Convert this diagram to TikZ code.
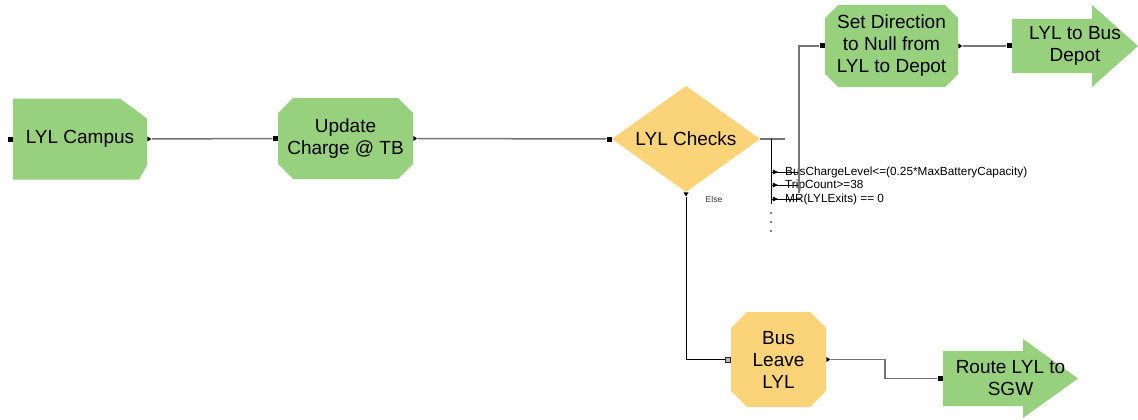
\documentclass[tikz,border=0pt]{standalone}
\usepackage{fontspec}
\setmainfont{Liberation Sans}
\usetikzlibrary{shapes.geometric,positioning,calc}
\definecolor{lylgreen}{HTML}{97D17D}
\definecolor{lylgold}{HTML}{FBD378}
\definecolor{linkgrey}{HTML}{747474}

\tikzset{
  block/.style={rectangle, inner sep=0pt, align=center, font=\fontsize{19}{22}\selectfont},
  octbox/.style 2 args={block, path picture={
      \coordinate (nw) at (path picture bounding box.north west);
      \coordinate (se) at (path picture bounding box.south east);
      \fill[#1] ($(nw)+(#2,0)$) -- ($(se|-nw)+(-#2,0)$) -- ($(se|-nw)+(0,-#2)$)
        -- ($(se)+(0,#2)$) -- ($(se)+(-#2,0)$) -- ($(nw|-se)+(#2,0)$)
        -- ($(nw|-se)+(0,#2)$) -- ($(nw)+(0,-#2)$) -- cycle;}},
  startbox/.style={block, path picture={
      \coordinate (nw) at (path picture bounding box.north west);
      \coordinate (se) at (path picture bounding box.south east);
      \fill[lylgreen] (nw) -- ($(se|-nw)+(-27,0)$) -- ($(se|-nw)+(0,-20)$)
        -- ($(se)+(0,14)$) -- ($(se)+(-8,0)$) -- (nw|-se) -- cycle;}},
  decisionbox/.style={block, path picture={
      \fill[lylgold] (path picture bounding box.north) -- (path picture bounding box.east)
        -- (path picture bounding box.south) -- (path picture bounding box.west) -- cycle;}},
  routebox/.style 2 args={block, path picture={
      \coordinate (nw) at (path picture bounding box.north west);
      \coordinate (se) at (path picture bounding box.south east);
      \fill[lylgreen] ($(nw)+(0,-#1)$) -- ($(nw)+(#2,-#1)$) -- ($(nw)+(#2,0)$)
        -- (path picture bounding box.east) -- ($(nw|-se)+(#2,0)$)
        -- ($(nw|-se)+(#2,#1)$) -- ($(nw|-se)+(0,#1)$) -- cycle;}},
  inport/.style={rectangle, fill=black, minimum size=5pt, inner sep=0pt},
  openport/.style={rectangle, fill=gray!55, draw=black!85, line width=0.7pt, minimum size=5pt, inner sep=0pt},
  outport/.style={isosceles triangle, isosceles triangle stretches, fill=black,
    minimum height=4pt, minimum width=5pt, inner sep=0pt},
  link/.style={draw=linkgrey, line width=1.5pt},
  blink/.style={draw=black, line width=1pt},
  condtext/.style={anchor=west, inner sep=0pt, font=\fontsize{11.8}{13}\selectfont},
}

\begin{document}
\begin{tikzpicture}[x=1pt, y=1pt]
\useasboundingbox (0,0) rectangle (1138,-420);

\node[startbox, minimum width=134pt, minimum height=81pt] (campus) at (80,-139) {LYL Campus};
\node[octbox={lylgreen}{15}, minimum width=135pt, minimum height=81pt] (update) at (345.5,-138.5) {Update\\Charge @ TB};
\node[decisionbox, minimum width=148pt, minimum height=106pt] (checks) at (686,-139) {LYL Checks};
\node[octbox={lylgreen}{13}, minimum width=133pt, minimum height=82pt] (setdir) at (891.5,-46) {Set Direction\\to Null from\\LYL to Depot};
\node[routebox={14}{80}, minimum width=126pt, minimum height=82pt] (depot) at (1075,-46) {LYL to Bus\\Depot};
\node[octbox={lylgold}{16}, minimum width=95pt, minimum height=95pt] (busleave) at (778.5,-359.5) {Bus\\Leave\\LYL};
\node[routebox={12}{80}, minimum width=135pt, minimum height=79pt] (sgw) at (1010.5,-378.5) {Route LYL to\\SGW};

% ports
\node[inport, left=0pt of campus] (campus-in) {};
\node[outport, right=0pt of campus] (campus-out) {};
\node[inport, left=0pt of update] (update-in) {};
\node[outport, right=0pt of update] (update-out) {};
\node[inport, left=0pt of checks] (checks-in) {};
\node[outport, shape border rotate=-90, below=0pt of checks] (checks-else) {};
\node[inport, left=0pt of setdir] (setdir-in) {};
\node[outport, right=0pt of setdir] (setdir-out) {};
\node[inport, left=0pt of depot] (depot-in) {};
\node[openport, left=0pt of busleave] (busleave-in) {};
\node[outport, right=0pt of busleave] (busleave-out) {};
\node[inport, left=0pt of sgw] (sgw-in) {};

\coordinate (split) at (771,-139);
\coordinate (splitend) at (785,-139);
\coordinate (splitbot) at (771,-204);
\coordinate (cond-exit) at (799,-193);
\coordinate (jog) at (885,-370);

\draw[link] (campus-out) -- (update-in);
\draw[link] (update-out) -- (checks-in);
\draw[link] (checks.east) -- (splitend);
\draw[blink] (split) -- (splitbot);
\foreach \y/\txt [count=\i] in {172/{BusChargeLevel<=(0.25*MaxBatteryCapacity)}, 185/{TripCount>=38}, 199/{MR(LYLExits) == 0}} {
  \node[outport, minimum height=5pt] (cond\i) at (774.5,-\y) {};
  \coordinate (cond\i-end) at (800,-\y);
  \node[condtext] (cond\i-label) at (785,-\y) {\txt};
  \draw[blink] (split |- cond\i) -- (cond\i-end);
}
\foreach \y in {213,222,231} \fill (771,-\y) circle (0.9);
\draw[link] (cond-exit) |- (setdir-in);
\draw[blink] (checks-else.south) |- (busleave-in);
\node[font=\fontsize{8.5}{10}\selectfont, text=black!80] (else) at (714,-199) {Else};
\draw[link] (setdir-out) -- (depot-in);
\draw[link] (busleave-out) -| (jog) |- (sgw-in);
\end{tikzpicture}
\end{document}
